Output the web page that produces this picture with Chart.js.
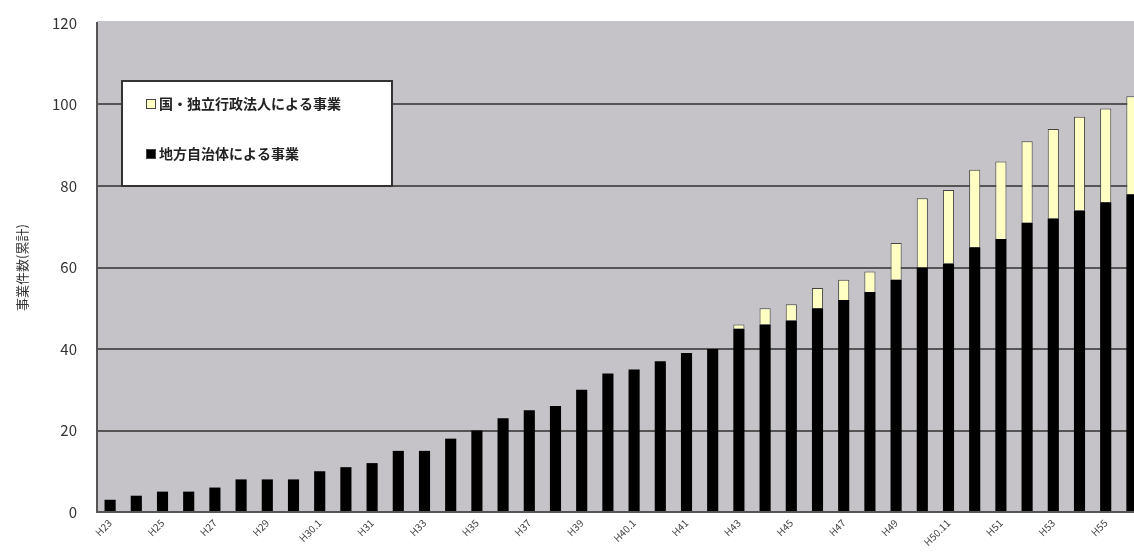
<!DOCTYPE html>
<html>
<head>
<meta charset="utf-8">
<script src="https://cdn.jsdelivr.net/npm/chart.js@4.4.1/dist/chart.umd.min.js"></script>
<style>
  html, body { margin: 0; padding: 0; background: #ffffff; overflow: hidden; }
  #wrap { position: relative; width: 1150px; height: 552px; }
</style>
</head>
<body>
<div id="wrap"><canvas id="c" width="1150" height="552"></canvas></div>
<script>
// Tick labels (every other bar is labelled)
const tickLabels = ['H23','H25','H27','H29','H30.1','H31','H33','H35','H37','H39',
                    'H40.1','H41','H43','H45','H47','H49','H50.11','H51','H53','H55'];
// Local government projects (cumulative)
const localGov = [3,4,5,5,6,8,8,8,10,11,12,15,15,18,20,23,25,26,30,34,
                  35,37,39,40,45,46,47,50,52,54,57,60,61,65,67,71,72,74,76,78];
// National / independent administrative agency projects (cumulative)
const national = [0,0,0,0,0,0,0,0,0,0,0,0,0,0,0,0,0,0,0,0,
                  0,0,0,0,1,4,4,5,5,5,9,17,18,19,19,20,22,23,23,24];
const seriesNames = ['国・独立行政法人による事業', '地方自治体による事業'];
const yTicks = [0, 20, 40, 60, 80, 100, 120];

const categories = [];
tickLabels.forEach(l => { categories.push(l); categories.push(''); });

const FONT = '"Noto Sans CJK JP", "Noto Sans", sans-serif';

const legendInside = {
  id: 'legendInside',
  afterDraw(chart) {
    const ctx = chart.ctx;
    const x = 122, y = 81, w = 270, h = 105;
    ctx.save();
    ctx.fillStyle = '#ffffff';
    ctx.fillRect(x, y, w, h);
    ctx.strokeStyle = '#333333';
    ctx.lineWidth = 2;
    ctx.strokeRect(x, y, w, h);
    const items = [chart.data.datasets[1], chart.data.datasets[0]];
    const ys = [104, 154];
    ctx.font = 'bold 14px ' + FONT;
    ctx.textBaseline = 'middle';
    items.forEach((ds, i) => {
      ctx.fillStyle = ds.backgroundColor;
      ctx.fillRect(x + 24, ys[i] - 5, 10, 10);
      ctx.strokeStyle = '#444';
      ctx.lineWidth = 1;
      ctx.strokeRect(x + 24.5, ys[i] - 4.5, 9, 9);
      ctx.fillStyle = '#222222';
      ctx.fillText(ds.label, x + 37, ys[i]);
    });
    ctx.restore();
  }
};

const plotBg = {
  id: 'plotBg',
  beforeDraw(chart) {
    const a = chart.chartArea;
    const ctx = chart.ctx;
    ctx.save();
    ctx.fillStyle = '#c5c3c8';
    ctx.fillRect(a.left, a.top - 2, a.right - a.left, a.bottom - a.top + 2);
    ctx.restore();
  }
};

new Chart(document.getElementById('c'), {
  type: 'bar',
  data: {
    labels: categories,
    datasets: [
      { label: seriesNames[1], data: localGov, backgroundColor: '#000000',
        borderWidth: 0, stack: 's' },
      { label: seriesNames[0], data: national, backgroundColor: '#ffffc4',
        borderColor: '#444444', borderWidth: 1, borderSkipped: 'bottom', stack: 's' }
    ]
  },
  options: {
    responsive: false,
    animation: false,
    devicePixelRatio: 1,
    layout: { padding: { left: 14, right: 5, top: 23, bottom: 0 } },
    datasets: { bar: { barPercentage: 0.85, categoryPercentage: 0.5 } },
    plugins: { legend: { display: false }, tooltip: { enabled: false } },
    scales: {
      x: {
        stacked: true,
        grid: { display: false, drawTicks: false },
        border: { display: true, color: '#555555', width: 2 },
        afterFit(s) { s.height = 40; },
        ticks: {
          autoSkip: false, maxRotation: 45, minRotation: 45,
          font: { size: 10, family: FONT }, color: '#444444', padding: 5
        }
      },
      y: {
        stacked: true,
        min: 0, max: 120,
        afterFit(s) { s.width = 83; s.paddingTop = 0; s.paddingBottom = 0; },
        afterBuildTicks(s) { s.ticks = yTicks.map(v => ({ value: v })); },
        grid: {
          drawTicks: false,
          lineWidth: 2,
          color: ctx => (ctx.tick && (ctx.tick.value === 0 || ctx.tick.value === 120)) ? 'rgba(0,0,0,0)' : '#555555'
        },
        border: { display: true, color: '#555555', width: 2 },
        ticks: { font: { size: 15, family: FONT }, color: '#333333', padding: 20 },
        title: { display: true, text: '事業件数(累計)', font: { size: 13, family: FONT },
                 color: '#333333', padding: { top: 0, bottom: 4 } }
      }
    }
  },
  plugins: [plotBg, legendInside]
});
</script>
</body>
</html>
